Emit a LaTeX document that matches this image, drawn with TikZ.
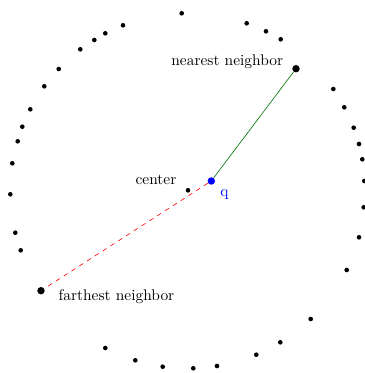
\documentclass[tikz,border=0pt]{standalone}
\begin{document}
\begin{tikzpicture}[x=0.647pt,y=-0.647pt,
  dot/.style={circle,fill=black,inner sep=0pt,minimum size=3.0pt},
  bigdot/.style={circle,fill=black,inner sep=0pt,minimum size=4.8pt},
  qdot/.style={circle,fill=blue,inner sep=0pt,minimum size=4.8pt},
  lbl/.style={inner sep=0pt,font=\normalsize}]
\useasboundingbox (0,0) rectangle (365,373);
% ring of points
\foreach \x/\y [count=\i] in {181.7/13.3,123/25.3,105.3/33.3,94.3/40,80.3/49.3,58.7/69,44.3/86.3,30.3/109.3,22.3/126.7,17.7/141.3,12.3/163.3,10.3/194.3,15.3/232.7,20.7/250.3,105.3/348,135.3/360.3,162.7/366.7,193.3/368.3,217/366,256.3/354.7,280.3/342.3,310.7/319,346.7/270,359/237.3,363.7/207.3,364.3/181,362.3/159.3,359/144,353.7/127.7,344.3/107.3,333.3/89,280.7/39.3,266/31.3,246.7/23.3}
  \node[dot] (p\i) at (\x,\y) {};
\node[dot] (c) at (188,190.3) {};
\node[qdot] (q) at (211.3,181) {};
\node[bigdot] (nn) at (296,68.7) {};
\node[bigdot] (fn) at (41,290.7) {};
\draw[green!45!black] (q) -- (nn);
\draw[red,dashed] (q) -- (fn);
\node[lbl,anchor=base east] (lnn) at (283.5,65.7) {nearest neighbor};
\node[lbl,anchor=base west] (lfn) at (58.3,300) {farthest neighbor};
\node[lbl,anchor=base east] (lc) at (176.7,184.5) {center};
\node[lbl,anchor=base west,text=blue] (lq) at (220,196.5) {q};
\end{tikzpicture}
\end{document}
